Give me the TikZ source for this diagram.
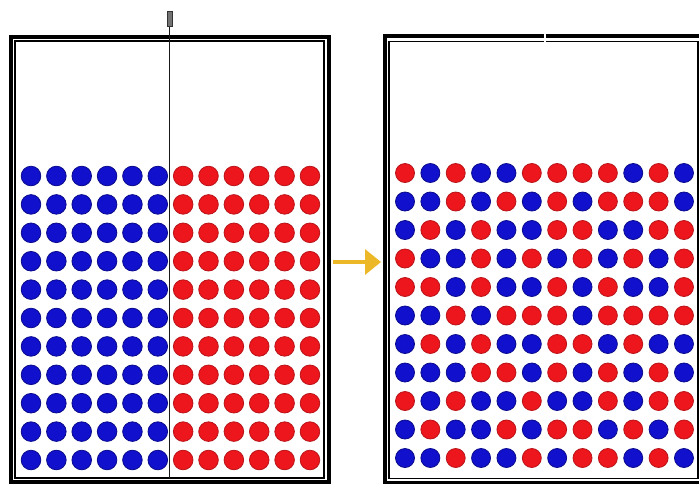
\documentclass[tikz,border=0pt]{standalone}
\usetikzlibrary{arrows.meta}
\definecolor{fB}{RGB}{16,16,205}
\definecolor{dB}{RGB}{10,10,140}
\definecolor{fR}{RGB}{236,22,28}
\definecolor{dR}{RGB}{185,20,25}
\definecolor{amber}{RGB}{236,184,40}
\begin{document}
\begin{tikzpicture}[x=1pt,y=-1pt,
  dot/.style={circle,minimum size=19.6pt,inner sep=0pt,line width=0.8pt},
  dotsmall/.style={circle,minimum size=19pt,inner sep=0pt,line width=0.8pt},
  outerframe/.style={draw=black,line width=4pt},
  innerframe/.style={draw=black,line width=1.6pt},
  handlebox/.style={draw=black!80,fill=black!55,minimum width=5pt,minimum height=15pt,inner sep=0pt,line width=0.7pt},
  divider/.style={draw=black!90,line width=1pt},
  arrowline/.style={draw=amber,line width=3.5pt,-{Triangle[length=16pt,width=25pt]}}]
\clip (0,0) rectangle (699,483);
\fill[white] (0,0) rectangle (699,483);
% ---------- left box ----------
\draw[outerframe] (11,36.8) rectangle (328.5,481.5);
\draw[innerframe] (15.2,41.2) rectangle (323.8,478);
\foreach \i in {0,...,10}{
  \foreach \j in {0,...,5}{
    \node[dot,fill=fB,draw=dB] (L-\i-\j) at ({31+25.36*\j},{176+28.4*\i}) {};
  }
  \foreach \j in {6,...,11}{
    \node[dot,fill=fR,draw=dR] (L-\i-\j) at ({31+25.36*\j},{176+28.4*\i}) {};
  }
}
\node[handlebox] (handle) at (169.8,19.2) {};
\coordinate (divB) at (169.8,478);
\draw[divider] (handle.south) -- (divB);
% ---------- arrow ----------
\coordinate (aS) at (333,262);
\coordinate (aE) at (381,262);
\draw[arrowline] (aS) -- (aE);
% ---------- right box ----------
\draw[outerframe] (384.8,36.2) rectangle (702.5,483);
\draw[innerframe] (389.2,41.3) rectangle (697.7,478.3);
\draw[white,line width=1.5pt] (545,32) -- (545,44);
\foreach \row [count=\i] in {
  {R,B,R,B,B,R,R,R,R,B,R,B},
  {B,B,R,B,R,B,R,B,R,R,R,B},
  {B,R,B,R,B,B,R,R,B,B,R,R},
  {R,B,B,R,B,R,B,R,B,R,B,R},
  {R,R,B,R,B,B,R,B,R,B,B,R},
  {B,B,R,B,R,R,R,B,R,R,R,R},
  {B,R,B,R,B,B,R,R,B,R,B,B},
  {B,B,B,R,R,B,R,B,R,B,R,B},
  {R,B,R,B,B,R,B,B,R,B,R,R},
  {B,R,B,B,R,B,R,R,B,R,B,R},
  {B,B,R,B,B,R,B,R,R,B,R,B}}{
  \foreach \c [count=\j] in \row {
    \node[dotsmall,fill=f\c,draw=d\c] (R-\i-\j) at ({405+25.36*(\j-1)},{173+28.5*(\i-1)}) {};
  }
}
\end{tikzpicture}
\end{document}
